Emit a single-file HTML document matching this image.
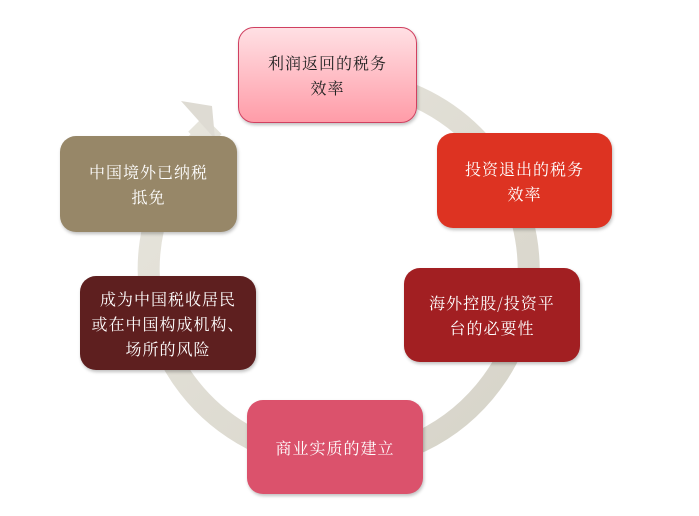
<!DOCTYPE html>
<html><head><meta charset="utf-8"><style>
body{margin:0;width:699px;height:516px;background:#fff;position:relative;overflow:hidden;font-family:"Noto Serif CJK SC","Liberation Serif",serif;}
.b{position:absolute;border-radius:16px;display:flex;align-items:center;justify-content:center;text-align:center;color:#fff;font-size:16px;line-height:25px;letter-spacing:1px;box-shadow:1px 2px 3px rgba(0,0,0,0.25);}
</style></head><body>
<svg width="699" height="516" style="position:absolute;left:0;top:0">
<defs><linearGradient id="g" x1="0" y1="0" x2="1" y2="1"><stop offset="0" stop-color="#e8e6de"/><stop offset="1" stop-color="#d6d3c8"/></linearGradient></defs>
<path d="M 338 80 A 190 190 0 1 1 206 134 L 196 124" fill="none" stroke="url(#g)" stroke-width="22"/>
<polygon points="181,101 212,106 215,139" fill="#dedbd3"/>
</svg>
<div class="b" style="left:238px;top:27px;width:177px;height:94px;background:linear-gradient(#ffe0e4,#ff9ca8);border:1px solid #d04060;color:#222;">利润返回的税务<br>效率</div>
<div class="b" style="left:437px;top:133px;width:175px;height:95px;background:#dd3322;">投资退出的税务<br>效率</div>
<div class="b" style="left:404px;top:268px;width:176px;height:94px;background:#a21f22;">海外控股/投资平<br>台的必要性</div>
<div class="b" style="left:247px;top:400px;width:176px;height:94px;background:#db526c;">商业实质的建立</div>
<div class="b" style="left:80px;top:276px;width:176px;height:94px;background:#5e1f1f;">成为中国税收居民<br>或在中国构成机构、<br>场所的风险</div>
<div class="b" style="left:60px;top:136px;width:177px;height:96px;background:#978768;">中国境外已纳税<br>抵免</div>
</body></html>
